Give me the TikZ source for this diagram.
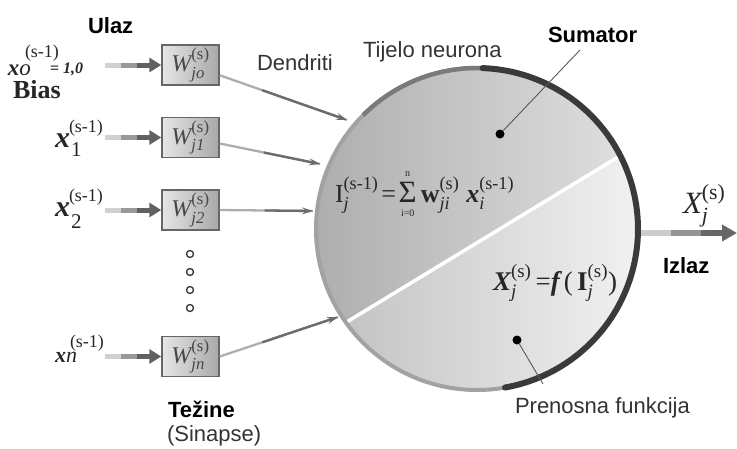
\documentclass[tikz,border=0pt]{standalone}
\usepackage{amsmath}
\usepackage{fontspec}
\setmainfont{Liberation Serif}
\newfontfamily\arial{Liberation Sans}
\usetikzlibrary{arrows.meta,calc}
\newcommand\ti[1]{\text{\mdseries\itshape #1}}
\newcommand\tu[1]{\text{\mdseries\upshape #1}}
\newcommand\tbi[1]{\text{\bfseries\itshape #1}}
\newcommand\tbu[1]{\text{\bfseries\upshape #1}}
\newcommand\tsm[1]{\text{\mdseries\upshape\fontsize{10}{10}\selectfont #1}}
\definecolor{cA}{HTML}{ADADAD}
\definecolor{cB}{HTML}{E2E2E2}
\definecolor{cC}{HTML}{BDBDBD}
\definecolor{cD}{HTML}{F3F3F3}
\definecolor{rimL}{HTML}{A2A2A2}
\definecolor{rimM}{HTML}{7A7A7A}
\definecolor{rimD}{HTML}{3A3A3A}
\begin{document}
\begin{tikzpicture}[x=1pt,y=-1pt,
  lab/.style={anchor=base west, inner sep=0pt, outer sep=0pt, text=black!80, font=\arial\fontsize{22}{26}\selectfont},
  blab/.style={lab, text=black, font=\arial\bfseries\fontsize{22}{26}\selectfont},
  mlab/.style={anchor=base west, inner sep=0pt, outer sep=0pt, text=black!85},
  wbox/.style={draw=black!60, line width=1.4pt, minimum width=57pt, minimum height=40pt, inner sep=0pt,
    left color=black!10, right color=black!34, text=black!72, font=\fontsize{24}{24}\selectfont},
  vdot/.style={circle, draw=black!80, fill=white, line width=1.3pt, minimum size=7pt, inner sep=0pt},
  bdot/.style={circle, fill=black, minimum size=9pt, inner sep=0pt},
  inarr/.style={draw=black!18, line width=5pt, shorten >=8pt,
    postaction={draw=black!40, line width=5pt, shorten <=16pt, shorten >=8pt},
    postaction={draw=black!62, line width=5pt, shorten <=32pt, shorten >=0pt, -{Triangle[length=12pt,width=14pt]}}},
  conn/.style={draw=black!32, line width=2.3pt,
    postaction={draw=black!58, line width=2.3pt, shorten <=45pt, -{Stealth[length=11pt,width=7pt,inset=4pt]}}},
  outarr/.style={draw=black!20, line width=6pt, shorten >=10pt,
    postaction={draw=black!42, line width=6pt, shorten <=30pt, shorten >=10pt},
    postaction={draw=black!60, line width=6pt, shorten <=60pt, shorten >=0pt, -{Triangle[length=15pt,width=16pt]}}},
  pline/.style={draw=black!65, line width=0.9pt}
]
\useasboundingbox (0,0) rectangle (737,448);

% neuron body
\begin{scope}
  \clip (477,229) circle (161);
  \fill[left color=cA, right color=cB] (310,60) rectangle (645,400);
  \fill[left color=cC, right color=cD] (300,350.4) -- (650,137.6) -- (650,400) -- (300,400) -- cycle;
  \draw[white, line width=3.5pt] (300,350.4) -- (650,137.6);
\end{scope}
\coordinate (body) at (477,229);
\draw[rimL, line width=4pt] (body) circle (161);
\draw[rimM, line width=4.5pt] plot[domain=-135:-85, samples=40] ({477+161*cos(\x)}, {229+161*sin(\x)});
\draw[rimD, line width=6pt, line cap=round] plot[domain=-88:80, samples=120] ({477+161*cos(\x)}, {229+161*sin(\x)});

% weight boxes
\node[wbox] (w0) at (190.5,65) {$\ti{W}_{\ti{jo}}^{\tu{(s)}}$};
\node[wbox] (w1) at (190.5,137.5) {$\ti{W}_{\ti{j1}}^{\tu{(s)}}$};
\node[wbox] (w2) at (190.5,210) {$\ti{W}_{\ti{j2}}^{\tu{(s)}}$};
\node[wbox] (wn) at (190.5,356.5) {$\ti{W}_{\ti{jn}}^{\tu{(s)}}$};

% dots
\node[vdot] (v1) at (190,254) {};
\node[vdot] (v2) at (190,272) {};
\node[vdot] (v3) at (190,290) {};
\node[vdot] (v4) at (190,308) {};

% input arrow starts
\coordinate (a0) at (105,65);
\coordinate (a1) at (105,137.5);
\coordinate (a2) at (105,210);
\coordinate (an) at (105,356.5);
\draw[inarr] (a0) -- (w0.west);
\draw[inarr] (a1) -- (w1.west);
\draw[inarr] (a2) -- (w2.west);
\draw[inarr] (an) -- (wn.west);

% dendrite ends on body
\coordinate (d0) at (347,120);
\coordinate (d1) at (320,164);
\coordinate (d2) at (313,211);
\coordinate (dn) at (338,317);
\draw[conn] (w0) -- (d0);
\draw[conn] (w1) -- (d1);
\draw[conn] (w2.east) -- (d2);
\draw[conn] (wn.east) -- (dn);

% output
\coordinate (o0) at (641,233);
\coordinate (o1) at (737,233);
\draw[outarr] (o0) -- (o1);

% input labels
\node[mlab, font=\fontsize{23}{23}\selectfont] (x0) at (8,75) {\textbf{\textit{x}}\textit{o}};
\node[mlab, font=\fontsize{18}{18}\selectfont] (x0s) at (25,57) {(s-1)};
\node[mlab, font=\fontsize{16}{16}\selectfont] (x0e) at (50,73) {\textbf{= \textit{1,0}}};
\node[mlab, font=\fontsize{30}{30}\selectfont] (x1) at (55,147) {\textbf{\textit{x}}};
\node[mlab, font=\fontsize{18}{18}\selectfont] (x1s) at (69,132) {(s-1)};
\node[mlab, font=\fontsize{21}{21}\selectfont] (x1b) at (71,156) {1};
\node[mlab, font=\fontsize{30}{30}\selectfont] (x2) at (55,216) {\textbf{\textit{x}}};
\node[mlab, font=\fontsize{18}{18}\selectfont] (x2s) at (69,201) {(s-1)};
\node[mlab, font=\fontsize{21}{21}\selectfont] (x2b) at (71,228) {2};
\node[mlab, font=\fontsize{22}{22}\selectfont] (xn) at (55,362) {\textbf{\textit{x}}\textit{n}};
\node[mlab, font=\fontsize{18}{18}\selectfont] (xns) at (70,347) {(s-1)};

% formulas
\node[mlab, font=\fontsize{26}{26}\selectfont] (f1) at (335,202)
  {$\tu{I}_{\ti{j}}^{\tu{(s-1)}}\!\mathrel{\tu{=}}\!\mathop{\text{\mdseries\upshape\fontsize{31}{31}\selectfont Σ}}\limits_{\tsm{i=0}}^{\tsm{n}}\tbu{w}_{\ti{ji}}^{\tu{(s)}}\;\tbi{x}_{\ti{i}}^{\tu{(s-1)}}$};
\node[mlab, font=\fontsize{27}{27}\selectfont] (f2) at (493,290)
  {$\tbi{X}_{\ti{j}}^{\tu{(s)}}\,\tu{=}\tbi{f}\,\tu{(}\,\tbu{I}_{\ti{j}}^{\tu{(s)}}\tu{)}$};
\node[mlab, font=\fontsize{31}{31}\selectfont] (xo) at (683,213) {$\ti{X}_{\ti{j}}^{\tu{(s)}}$};

% pointer dots
\node[bdot] (sd) at (500,134) {};
\coordinate (st) at (580,50);
\draw[pline] (sd) -- (st);
\node[bdot] (pd) at (517,340) {};
\coordinate (pt) at (543,384);
\draw[pline] (pd) -- (pt);

% text labels
\node[blab] (ulaz) at (88,33) {Ulaz};
\node[mlab, text=black!85, font=\bfseries\fontsize{26}{26}\selectfont] (bias) at (13,98) {Bias};
\node[lab] (dend) at (257,70) {Dendriti};
\node[lab] (tijelo) at (363,57) {Tijelo neurona};
\node[blab] (sum) at (548,42) {Sumator};
\node[blab] (izlaz) at (663,273) {Izlaz};
\node[lab] (pren) at (515,413) {Prenosna funkcija};
\node[blab] (tez) at (168,417) {Težine};
\node[lab] (sin) at (167,441) {(Sinapse)};
\end{tikzpicture}
\end{document}
